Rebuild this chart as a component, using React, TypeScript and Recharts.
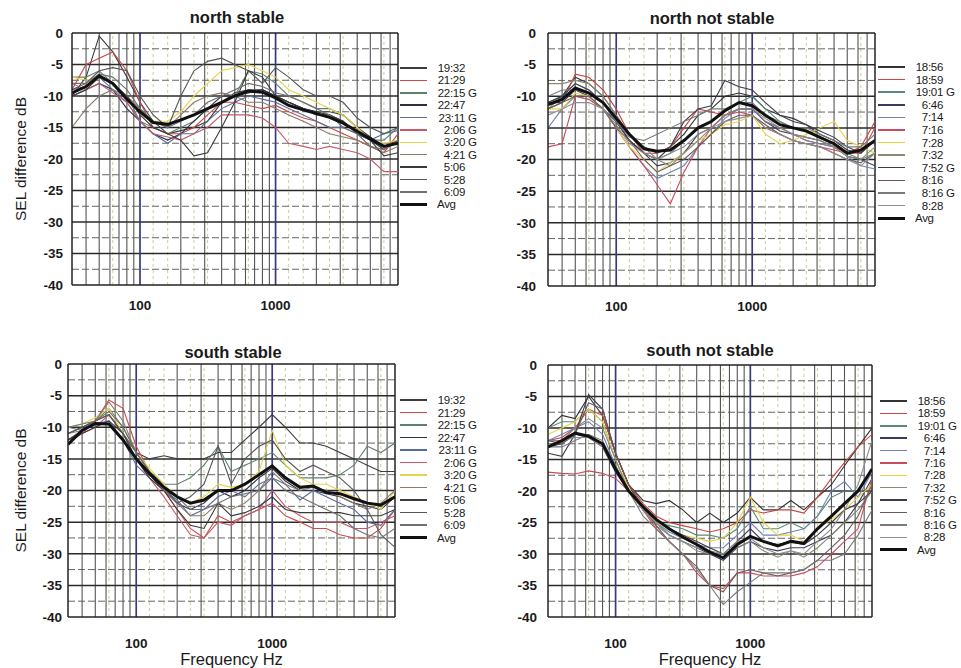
import React from 'react'
import { LineChart, Line, XAxis, YAxis, ReferenceLine } from 'recharts'

// 1/3-octave band centres, Hz
const freqs = [31.5, 40, 50, 63, 80, 100, 125, 160, 200, 250, 315, 400, 500, 630, 800, 1000, 1250, 1600, 2000, 2500, 3150, 4000, 5000, 6300, 8000]

const yTicks = [0, -5, -10, -15, -20, -25, -30, -35, -40]
const xTicks = [100, 1000]

const northStableLabels = ['19:32', '21:29', '22:15 G', '22:47', '23:11 G', '2:06 G', '3:20 G', '4:21 G', '5:06', '5:28', '6:09']
const northStable = [
  [-10, -7, -0.5, -3, -7, -11, -14, -16, -15.5, -15, -14, -11, -9.5, -9, -9, -10, -11, -12, -12.5, -12.5, -13, -15, -16.5, -18, -17],
  [-9, -5, -4, -3, -6, -11, -15, -16, -16, -15, -13, -11, -11, -11.5, -12, -11.5, -12.5, -13.5, -14, -15, -16, -17, -18, -19, -16],
  [-7, -7, -6, -8, -10, -14, -15, -16, -15, -14, -12, -11, -10, -6, -6.5, -8, -10, -11, -12, -12, -13, -15, -17, -17, -15],
  [-10, -9, -8, -9, -12, -14, -16, -17, -16, -14, -12, -10, -10, -9.5, -9, -10, -11, -12, -12.5, -13, -14, -16, -17, -18.5, -17],
  [-9, -8.5, -7, -9, -11, -14, -16, -17.5, -16, -16, -14, -12, -11, -10, -10.5, -11, -12, -13, -14, -15, -15, -16, -17, -16, -15.5],
  [-8, -9, -8, -9.5, -11, -14, -16, -16.5, -17, -16, -15, -13, -13, -13, -13.5, -15, -17.5, -18, -18.5, -18, -18.5, -19, -20, -22, -22],
  [-7, -7.5, -7, -8, -10, -13, -14, -14, -12.5, -10, -8, -6, -5.5, -5, -6, -7, -9, -10, -11, -12, -13, -15, -17, -17.5, -17],
  [-15, -12, -10, -9, -10, -12, -14, -15, -13, -11, -10, -9.5, -10, -11, -11, -12, -13, -14, -15, -16, -16.5, -17, -18, -19, -18],
  [-10, -9, -7, -8, -10, -13, -15, -16, -17, -19.5, -19, -15, -11, -6, -7, -10, -11, -12, -13, -13, -14, -16, -17, -19.5, -19],
  [-9, -8, -6, -5.5, -6, -10, -13, -15, -10, -6, -4.5, -4, -5, -6, -8, -5.5, -7, -9, -10, -10, -11, -13.5, -15, -16, -15],
  [-8, -8, -6.5, -7, -9, -12, -14, -15, -14, -13, -11, -10, -9, -8, -8.5, -9.5, -10, -11, -12, -13, -15, -16, -18, -18.5, -17],
]
const northStableAvg = [-9.5, -8.5, -6.8, -8, -10.5, -12.5, -14.2, -14.5, -13.8, -13, -12, -11, -10, -9.2, -9.4, -10.3, -11.5, -12.2, -12.8, -13.4, -14.3, -15.6, -16.8, -18, -17.5]

const northUnstableLabels = ['18:56', '18:59', '19:01 G', '6:46', '7:14', '7:16', '7:28', '7:32', '7:52 G', '8:16', '8:16 G', '8:28']
const northUnstable = [
  [-11, -10, -7, -8, -10, -13, -16, -18, -19, -18, -16, -13, -12, -10, -9.5, -10, -12, -13, -13.5, -14.5, -16, -17, -18.5, -19, -17],
  [-12, -11, -6.5, -7, -9, -12, -16, -19, -19, -18, -15, -12, -12.5, -13, -12, -12, -14, -15, -16, -17, -17.5, -18, -19, -18, -14],
  [-12, -10, -8, -9, -11, -14, -17, -19, -20, -19, -17, -15, -14, -12, -11, -10, -12, -14, -15, -15.5, -16.5, -17.5, -19, -20, -19],
  [-11, -11, -9, -10, -12, -14, -17, -19, -21, -20.5, -19, -16, -15, -13, -12, -12, -14, -15.5, -16, -16.5, -17, -18, -19.5, -20, -21],
  [-15, -12, -10, -10.5, -12, -15, -18, -21, -23, -22, -21, -18, -16, -13.5, -12, -12, -14, -15, -16, -17, -17.5, -18, -19.5, -21, -21.5],
  [-18, -17.5, -10, -10.5, -12, -15, -18, -21, -24, -27, -22, -18, -15, -13, -12.5, -13, -15, -16, -17, -17.5, -18, -18.5, -19, -19, -15],
  [-12, -12, -9.5, -10, -12, -15, -18, -20, -22, -20.5, -19, -17, -16, -14.5, -14, -13, -16, -17.5, -17, -16, -15, -14, -17, -18, -19],
  [-8, -8, -7.5, -8, -10, -13, -16, -18, -20, -21, -19, -17, -15, -13, -12, -12, -13.5, -15, -16, -16.5, -17, -18, -19.5, -20, -18],
  [-11, -10, -8, -9, -11, -14, -17, -19, -20, -18, -14, -12, -11.5, -7.5, -8.5, -9, -11, -13, -14, -14.5, -15.5, -16.5, -18, -19, -17],
  [-12, -11, -10, -10, -12, -15, -17, -20, -22, -21, -20, -18, -16, -14, -13, -13, -14.5, -16, -17, -17.5, -18, -19, -20, -20.5, -19],
  [-10, -9, -9, -9.5, -11, -14, -16.5, -17, -16, -15, -14, -13, -12, -12, -11, -11, -13, -14, -15, -15, -16, -17, -18, -18, -16],
  [-13, -12, -11, -11, -12, -14.5, -17.5, -19, -20, -19, -18, -16, -15, -14, -13.5, -13, -15, -16, -17, -17.5, -18, -19, -20, -21, -19],
]
const northUnstableAvg = [-11.3, -10.5, -8.7, -9.5, -11, -13.5, -16, -18.3, -18.7, -18.5, -17, -15, -14, -12.3, -11, -11.5, -13, -14.5, -15, -15.5, -16.5, -17.5, -19, -18.5, -17]

const southStableLabels = northStableLabels
const southStable = [
  [-11, -10, -9, -8, -11, -14, -15, -14.5, -15, -15, -15, -14, -14, -12, -10, -8, -10, -12.5, -12.5, -13, -14, -15, -16, -17, -17],
  [-12, -11, -9, -5.7, -7, -13, -17, -20, -23, -26, -27.5, -24, -25, -24, -23, -22, -24, -25, -26, -26, -27, -27.5, -27.5, -26, -23],
  [-10, -10.5, -9, -7, -10, -14, -17, -19, -19, -18, -16, -13, -17, -16, -15, -14, -16, -18, -18, -18, -17.5, -16, -13, -14, -12.5],
  [-12, -10.5, -9.5, -9.5, -12, -15, -17.5, -20, -22, -23, -22, -20, -21, -20, -18, -16.5, -18.5, -20, -20, -20.5, -21, -22, -22.5, -23, -21],
  [-11, -10, -9.5, -9, -12, -16, -18, -20, -21.5, -24, -23, -21, -20, -21, -19, -18, -19, -21.5, -20, -21, -22, -23, -25, -25.5, -23],
  [-12.5, -11, -10, -8, -11, -15, -18, -21, -24, -27, -27.5, -25, -25.5, -24, -23, -20, -22.5, -24, -25, -25, -25, -26, -26, -25, -24],
  [-10, -9.5, -8.5, -7, -11, -14, -16.5, -19, -21, -22, -21, -19, -19.5, -19, -17, -10.5, -16, -18, -19, -19, -20, -21, -22, -23, -20],
  [-11, -10.5, -9, -6, -9, -14, -17, -20, -22, -24, -24, -22, -23, -22, -20, -17, -19, -20, -19.5, -20, -21, -22, -23, -22, -20],
  [-12, -11, -10, -9, -11, -15, -18, -20, -23, -25.5, -26, -22, -24, -23.5, -22.5, -21, -23, -23.5, -23.5, -23.5, -23.5, -24, -24, -24, -23],
  [-11, -10, -9, -8, -11, -14, -17, -19.5, -22, -21, -19, -13, -19, -15, -13, -12, -15, -17, -16, -17, -18, -20, -23, -27, -29],
  [-10, -9.5, -9, -7.5, -10, -14, -17, -20, -21, -23, -23, -22, -21, -20.5, -20, -18, -20, -21, -22, -23, -24, -26, -27, -27.5, -26],
]
const southStableAvg = [-12.7, -10.5, -9.4, -9.5, -12, -15, -17.3, -19.5, -21, -22, -21.5, -20, -20, -19, -17.5, -16.1, -18, -19.5, -19.3, -20.3, -20.5, -21.3, -22, -22.3, -21]

const southUnstableLabels = northUnstableLabels
const southUnstable = [
  [-10, -8, -8.5, -5, -8, -14, -19, -21.5, -22, -21.5, -23, -25, -23.5, -25, -23.5, -21, -23, -23, -21.5, -23, -21, -19, -16, -13, -10],
  [-12, -11.5, -10, -7, -8, -14, -19, -22, -24, -25, -25.5, -26, -26.5, -26, -25, -23, -23.5, -23, -23, -23.5, -21, -18, -15.5, -13, -11],
  [-10, -9, -9, -7, -9, -15, -20, -23, -25, -25.5, -26, -27, -27, -27.5, -26, -22.5, -26, -26, -25, -26, -24, -21, -20, -20, -17],
  [-13, -12.5, -11, -11.5, -13, -17, -20, -23, -25, -27, -28, -29, -30, -31, -29, -28, -29, -29.5, -29, -29, -28, -27, -25, -22, -18],
  [-12, -11, -10, -9, -11, -16, -20, -22.5, -25, -26.5, -27.5, -28.5, -29, -29, -27, -25, -27, -27, -26.5, -26, -24, -20, -18.5, -21, -17],
  [-17, -17.2, -17.3, -16.8, -17.2, -18, -20, -23, -26, -28, -30, -33, -35, -35.5, -33, -33, -33.5, -33.5, -33.5, -33, -32, -30, -28, -26, -18],
  [-11, -10, -9, -7, -9, -15, -19.5, -22.5, -25, -26, -27, -27.5, -28, -27.5, -25, -21, -25, -27, -27, -28, -26, -24.5, -23, -21, -19],
  [-12, -12, -10, -8.5, -10, -15, -20, -23, -25.5, -27, -28, -29.5, -30, -30, -29, -28, -29.5, -30.5, -29.5, -30.5, -29, -27, -25, -23, -20],
  [-14, -14.5, -11, -4.7, -7, -14, -19, -23, -24.5, -26, -27, -28, -29, -30, -28, -26, -28, -28.5, -28, -28.5, -27, -25, -23, -22, -20],
  [-12, -12.5, -11, -6, -7, -14, -19, -22.5, -25.5, -28, -30, -32, -35, -36, -33, -32.5, -33, -33.5, -33, -32.5, -31, -29, -27, -24, -19],
  [-13, -13, -12, -11, -12, -16, -20, -24, -26, -28, -30, -32.5, -35, -38, -36, -34.5, -33, -33, -33, -32.5, -31, -31, -30, -27, -23],
  [-13, -12, -11.5, -11.5, -13, -16.5, -20, -23, -25, -27, -28, -29, -29.5, -30, -28, -27.5, -29, -30, -29.5, -30, -28, -26, -23, -19, -12],
]
const southUnstableAvg = [-13, -12, -10.8, -11.3, -12.5, -16.5, -20, -22.5, -24.5, -26, -27.3, -28.5, -29.7, -30.6, -28.5, -27.2, -28, -28.7, -28, -28.3, -26, -24, -22, -20, -16.5]

// grid positions
const minorX = [40, 50, 60, 70, 80, 90, 200, 300, 400, 500, 600, 700, 800, 900, 2000, 3000, 4000, 5000, 6000, 7000]
const faintX = [63, 125, 160, 250, 315, 630, 1250, 1600, 2500, 3150, 6300]
const majorY = [-5, -10, -15, -20, -25, -30, -35]
const minorY = [-2.5, -7.5, -12.5, -17.5, -22.5, -27.5, -32.5, -37.5]

const stableColors = ['#3c3c3c', '#cc4a4a', '#5f8270', '#2e2e44', '#5a6c9c', '#c45a6a', '#e6d44c', '#8a7a68', '#3a3a3a', '#555555', '#707070']
const unstableColors = ['#333333', '#c84646', '#5c8a78', '#3a3a5c', '#7282b4', '#c84c5e', '#e8d244', '#8a8a78', '#3c3c4c', '#6c5a5a', '#7a7a7a', '#8e8e8e']

const font = '"Liberation Sans", Arial, sans-serif'

function Legend({ labels, colors, x, y, step, timeW }: {
  labels: string[]; colors: string[]; x: number; y: number; step: number; timeW: number
}) {
  const rows = [...labels, 'Avg']
  return (
    <div style={{ position: 'absolute', left: x, top: y, fontFamily: font, fontSize: 11.5, color: '#1a1a1a', letterSpacing: -0.3 }}>
      {rows.map((l, i) => {
        const avg = l === 'Avg'
        const [t, g] = l.split(' ')
        return (
          <div key={i} style={{ height: step, display: 'flex', alignItems: 'center', whiteSpace: 'nowrap' }}>
            <div style={{ width: 27, height: avg ? 3 : 1.5, background: avg ? '#111' : colors[i], marginRight: 10 }} />
            {avg ? <span>Avg</span> : (
              <>
                <span style={{ display: 'inline-block', width: timeW, textAlign: 'right' }}>{t}</span>
                {g && <span>&nbsp;{g}</span>}
              </>
            )}
          </div>
        )
      })}
    </div>
  )
}

interface PanelProps {
  title: string
  labels: string[]
  series: number[][]
  avg: number[]
  colors: string[]
  left: number
  top: number
  yAxisW: number
  yTickMargin: number
  margin: { top: number; right: number; bottom: number; left: number }
  xAxisH: number
  xTickMargin: number
  yLabel?: boolean
  xLabel?: boolean
  titleX: number
  titleY: number
}

function Panel(p: PanelProps) {
  const data = freqs.map((f, i) => {
    const row: Record<string, number> = { f, avg: p.avg[i] }
    p.series.forEach((s, j) => { row['s' + j] = s[i] })
    return row
  })
  const tick = { fill: '#1a1a1a', fontSize: 13.5, fontWeight: 700, fontFamily: font }
  return (
    <div style={{ position: 'absolute', left: p.left, top: p.top, width: 480, height: 334 }}>
      <div style={{
        position: 'absolute', left: p.titleX - 120, top: p.titleY - 10, width: 240, textAlign: 'center',
        fontFamily: font, fontWeight: 700, fontSize: 16.5, color: '#1a1a1a', lineHeight: '20px',
      }}>{p.title}</div>
      <LineChart width={480} height={334} data={data} margin={p.margin}>
        <XAxis
          dataKey="f" type="number" scale="log" domain={[31.5, 8000]} ticks={xTicks}
          allowDataOverflow tickLine={false} axisLine={{ stroke: '#222', strokeWidth: 1.5 }}
          tick={tick} tickMargin={p.xTickMargin} height={p.xAxisH}
          label={p.xLabel ? { value: 'Frequency Hz', position: 'insideBottom', offset: 2, style: { fill: '#1a1a1a', fontSize: 16.5, fontFamily: font } } : undefined}
        />
        <YAxis
          type="number" domain={[-40, 0]} ticks={yTicks} allowDataOverflow width={p.yAxisW}
          tickLine={false} tickSize={0} tickMargin={p.yTickMargin} axisLine={{ stroke: '#222', strokeWidth: 1.5 }} tick={tick}
          label={p.yLabel ? { value: 'SEL difference dB', angle: -90, position: 'insideLeft', offset: 20, style: { textAnchor: 'middle', fill: '#1a1a1a', fontSize: 15.5, fontFamily: font } } : undefined}
        />
        {faintX.map(v => <ReferenceLine key={'fx' + v} x={v} stroke="#c4d09c" strokeDasharray="3 3" />)}
        {minorY.map(v => <ReferenceLine key={'my' + v} y={v} stroke="#666" strokeDasharray="7 3" />)}
        {minorX.map(v => <ReferenceLine key={'mx' + v} x={v} stroke="#555" strokeWidth={1.1} />)}
        {majorY.map(v => <ReferenceLine key={'My' + v} y={v} stroke="#2a2a2a" strokeWidth={1.5} />)}
        <ReferenceLine x={100} stroke="#3a3a7a" strokeWidth={1.7} />
        <ReferenceLine x={1000} stroke="#3a3a7a" strokeWidth={1.7} />
        <ReferenceLine y={0} stroke="#222" strokeWidth={1.5} />
        <ReferenceLine x={8000} stroke="#222" strokeWidth={1.5} />
        {p.series.map((_, j) => (
          <Line key={j} dataKey={'s' + j} stroke={p.colors[j]} strokeWidth={1.1} dot={false}
            type="linear" isAnimationActive={false} />
        ))}
        <Line dataKey="avg" stroke="#111" strokeWidth={3} dot={false} type="linear" isAnimationActive={false} />
      </LineChart>
    </div>
  )
}

export default function App() {
  return (
    <div style={{ position: 'absolute', left: 0, top: 0, width: 961, height: 668, background: '#fff', overflow: 'hidden' }}>
      <Panel title="north stable" labels={northStableLabels} series={northStable} avg={northStableAvg}
        colors={stableColors} left={0} top={0} yAxisW={72} yTickMargin={9}
        margin={{ top: 33, right: 82, bottom: 19, left: 0 }} xAxisH={30} xTickMargin={9}
        yLabel titleX={237} titleY={17} />
      <Panel title="north not stable" labels={northUnstableLabels} series={northUnstable} avg={northUnstableAvg}
        colors={unstableColors} left={480} top={0} yAxisW={68} yTickMargin={12}
        margin={{ top: 33, right: 85, bottom: 18, left: 0 }} xAxisH={30} xTickMargin={9}
        titleX={232} titleY={18} />
      <Panel title="south stable" labels={southStableLabels} series={southStable} avg={southStableAvg}
        colors={stableColors} left={0} top={334} yAxisW={68} yTickMargin={6}
        margin={{ top: 30, right: 85, bottom: 1, left: 0 }} xAxisH={50} xTickMargin={15}
        yLabel xLabel titleX={233} titleY={18} />
      <Panel title="south not stable" labels={southUnstableLabels} series={southUnstable} avg={southUnstableAvg}
        colors={unstableColors} left={480} top={334} yAxisW={68} yTickMargin={11}
        margin={{ top: 31, right: 88, bottom: 1, left: 0 }} xAxisH={50} xTickMargin={15}
        xLabel titleX={230} titleY={16} />
      <Legend labels={northStableLabels} colors={stableColors} x={400} y={61.8} step={12.4} timeW={28} />
      <Legend labels={northUnstableLabels} colors={unstableColors} x={878} y={60.7} step={12.6} timeW={28} />
      <Legend labels={southStableLabels} colors={stableColors} x={400} y={393.8} step={12.5} timeW={28} />
      <Legend labels={southUnstableLabels} colors={unstableColors} x={880} y={394.8} step={12.4} timeW={28} />
    </div>
  )
}
